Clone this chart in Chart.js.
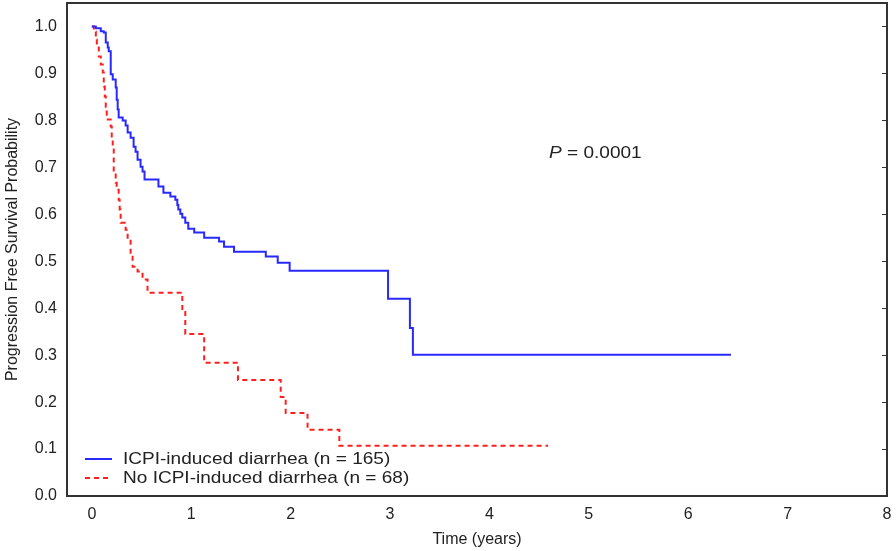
<!DOCTYPE html>
<html>
<head>
<meta charset="utf-8">
<script src="https://cdn.jsdelivr.net/npm/chart.js@4.4.1/dist/chart.umd.min.js"></script>
<style>
  html, body { margin: 0; padding: 0; background: #fff; }
  #wrap { width: 896px; height: 551px; }
</style>
</head>
<body>
<div id="wrap"><canvas id="km"></canvas></div>
<script>
// Kaplan-Meier steps (time in years, survival after the drop)
const icpiTime = [0, 0.04, 0.09, 0.12, 0.14, 0.16, 0.17, 0.19, 0.21, 0.24, 0.25, 0.26, 0.27, 0.31, 0.34, 0.36, 0.39, 0.42, 0.44, 0.46, 0.49, 0.51, 0.53, 0.67, 0.72, 0.79, 0.84, 0.86, 0.87, 0.89, 0.91, 0.94, 0.97, 1.03, 1.13, 1.28, 1.33, 1.43, 1.75, 1.87, 1.99, 2.98, 3.20, 3.23, 6.43];
const icpiSurv = [1.0, 0.996, 0.990, 0.987, 0.966, 0.955, 0.947, 0.898, 0.887, 0.870, 0.844, 0.823, 0.806, 0.800, 0.789, 0.774, 0.763, 0.744, 0.733, 0.716, 0.701, 0.691, 0.674, 0.659, 0.646, 0.638, 0.631, 0.620, 0.610, 0.601, 0.593, 0.582, 0.569, 0.561, 0.550, 0.542, 0.531, 0.520, 0.510, 0.497, 0.480, 0.420, 0.358, 0.301, 0.301];

const noIcpiTime = [0, 0.02, 0.04, 0.05, 0.07, 0.09, 0.11, 0.12, 0.13, 0.14, 0.15, 0.16, 0.19, 0.20, 0.21, 0.22, 0.24, 0.25, 0.27, 0.28, 0.29, 0.34, 0.36, 0.39, 0.41, 0.46, 0.51, 0.56, 0.91, 0.94, 1.13, 1.47, 1.90, 1.95, 2.17, 2.49, 4.59];
const noIcpiSurv = [1.0, 0.989, 0.972, 0.955, 0.936, 0.919, 0.902, 0.872, 0.851, 0.829, 0.812, 0.802, 0.787, 0.759, 0.738, 0.689, 0.667, 0.652, 0.631, 0.610, 0.582, 0.567, 0.546, 0.518, 0.488, 0.478, 0.461, 0.433, 0.392, 0.345, 0.284, 0.247, 0.211, 0.177, 0.141, 0.107, 0.107];

const seriesLabels = ['ICPI-induced diarrhea (n = 165)', 'No ICPI-induced diarrhea (n = 68)'];
const xTickValues = [0, 1, 2, 3, 4, 5, 6, 7, 8];
const yTickValues = [0, 0.1, 0.2, 0.3, 0.4, 0.5, 0.6, 0.7, 0.8, 0.9, 1.0];
const pValueText = '0.0001';

const toPoints = (t, s) => t.map((v, i) => ({ x: v, y: s[i] }));
const FONT = '"Liberation Sans", Arial, sans-serif';
const STRETCH = 1.12; // the source figure is a bit wider than its font

// frame, inward right ticks, legend and p-value
const decor = {
  id: 'decor',
  afterDatasetsDraw(chart) {
    const { ctx, chartArea: a, scales } = chart;
    ctx.save();
    ctx.strokeStyle = '#333';
    ctx.lineWidth = 2;
    ctx.strokeRect(a.left, a.top, a.right - a.left, a.bottom - a.top);
    ctx.lineWidth = 1;
    yTickValues.forEach(v => {
      const y = Math.round(scales.y.getPixelForValue(v)) + 0.5;
      ctx.beginPath();
      ctx.moveTo(a.right - 5, y);
      ctx.lineTo(a.right, y);
      ctx.stroke();
    });

    // legend
    ctx.textBaseline = 'middle';
    chart.data.datasets.forEach((ds, i) => {
      const y = a.bottom - 37 + i * 19;
      ctx.strokeStyle = ds.borderColor;
      ctx.lineWidth = 2;
      ctx.setLineDash(ds.borderDash || []);
      ctx.beginPath();
      ctx.moveTo(a.left + 18, y);
      ctx.lineTo(a.left + 45, y);
      ctx.stroke();
      ctx.setLineDash([]);
      ctx.fillStyle = '#222';
      ctx.save();
      ctx.translate(a.left + 56, y);
      ctx.scale(STRETCH, 1);
      ctx.font = '17px ' + FONT;
      ctx.fillText(ds.label, 0, 0);
      ctx.restore();
    });

    // p-value
    const px = scales.x.getPixelForValue(4.6);
    const py = scales.y.getPixelForValue(0.73);
    ctx.translate(px, py);
    ctx.scale(STRETCH, 1);
    ctx.fillStyle = '#222';
    ctx.font = 'italic 17px ' + FONT;
    ctx.fillText('P', 0, 0);
    const w = ctx.measureText('P').width;
    ctx.font = '17px ' + FONT;
    ctx.fillText(' = ' + pValueText, w, 0);
    ctx.restore();
  }
};

new Chart(document.getElementById('km'), {
  type: 'line',
  data: {
    datasets: [{
      label: seriesLabels[0],
      data: toPoints(icpiTime, icpiSurv),
      borderColor: 'rgb(40,40,255)',
      borderWidth: 2,
      stepped: 'before',
      pointRadius: 0,
      fill: false
    }, {
      label: seriesLabels[1],
      data: toPoints(noIcpiTime, noIcpiSurv),
      borderColor: 'rgb(255,30,30)',
      borderWidth: 2,
      borderDash: [5, 4],
      stepped: 'before',
      pointRadius: 0,
      fill: false
    }]
  },
  options: {
    responsive: true,
    maintainAspectRatio: false,
    animation: false,
    layout: { padding: { top: 3, right: 9, left: 0, bottom: 0 } },
    plugins: {
      legend: { display: false },
      tooltip: { enabled: false }
    },
    scales: {
      x: {
        type: 'linear',
        min: -0.25,
        max: 8,
        afterBuildTicks: s => { s.ticks = xTickValues.map(v => ({ value: v })); },
        afterFit: s => { s.height = 55; s.paddingLeft = 0; s.paddingRight = 0; },
        grid: { display: false, drawTicks: false },
        border: { display: false },
        ticks: { padding: 9, color: '#222', font: { family: FONT, size: 16 } },
        title: {
          display: true,
          text: 'Time (years)',
          color: '#222',
          font: { family: FONT, size: 16 },
          padding: { top: 5, bottom: 2 }
        }
      },
      y: {
        min: 0,
        max: 1.05,
        afterBuildTicks: s => { s.ticks = yTickValues.map(v => ({ value: v })); },
        afterFit: s => { s.width = 67; s.paddingTop = 0; s.paddingBottom = 0; },
        grid: { display: false, drawTicks: false },
        border: { display: false },
        ticks: {
          padding: 10,
          color: '#222',
          font: { family: FONT, size: 16 },
          callback: v => v.toFixed(1)
        },
        title: {
          display: true,
          text: 'Progression Free Survival Probability',
          color: '#222',
          font: { family: FONT, size: 16 },
          padding: { top: 3, bottom: 0 }
        }
      }
    }
  },
  plugins: [decor]
});
</script>
</body>
</html>
